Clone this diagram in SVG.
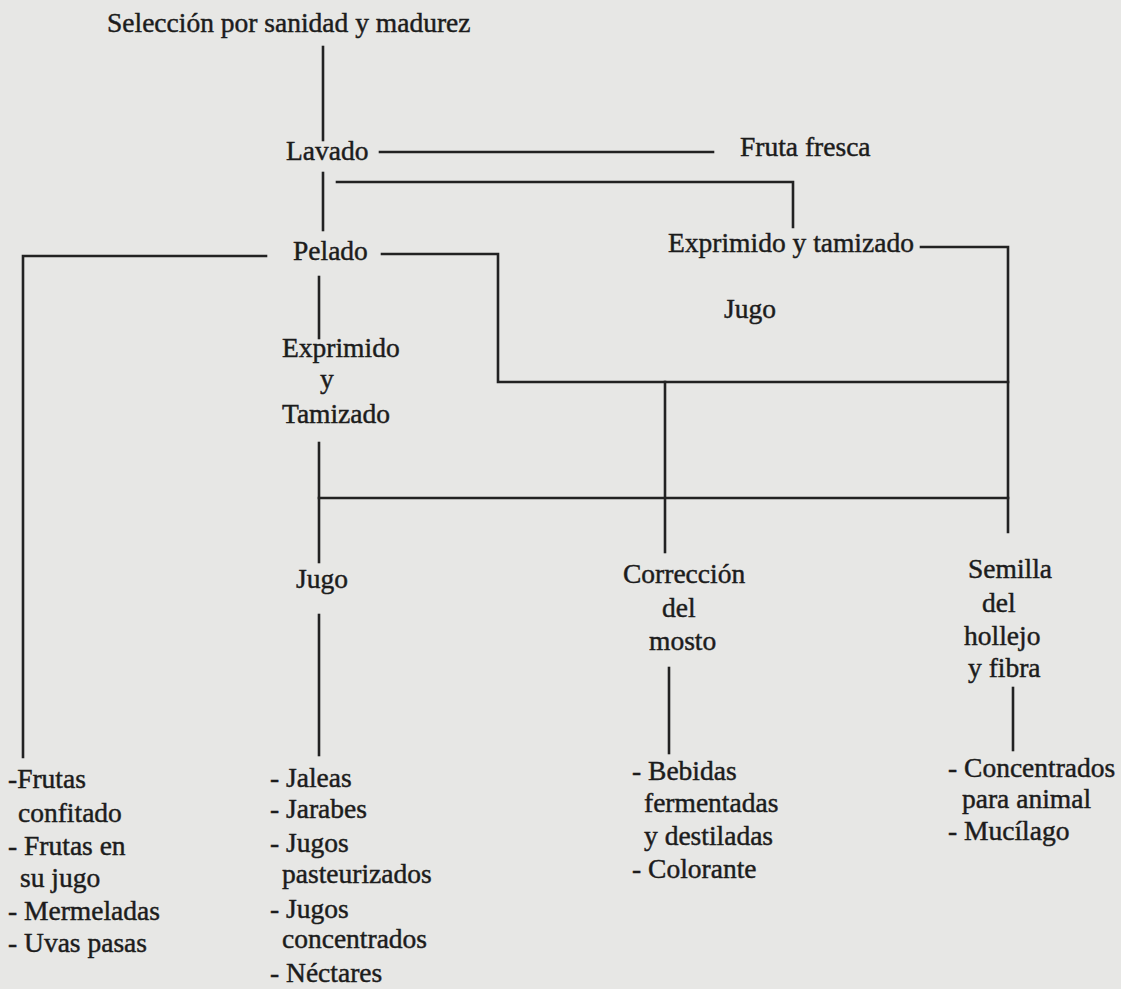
<svg xmlns="http://www.w3.org/2000/svg" width="1121" height="989" viewBox="0 0 1121 989">
<style>
text{font-family:"Liberation Serif","Times New Roman",serif;font-size:27.5px;fill:#1c1c1c;stroke:#1c1c1c;stroke-width:0.45}
.c{fill:none;stroke:#222;stroke-width:2.6;stroke-linecap:square}
</style>
<rect width="1121" height="989" fill="#e7e7e5"/>
<g id="connectors">
<path class="c" d="M323,47V140"/>
<path class="c" d="M380,152H713"/>
<path class="c" d="M323,173V230"/>
<path class="c" d="M337,182H793V227"/>
<path class="c" d="M266,256H23V757"/>
<path class="c" d="M382,254H498V382H1008"/>
<path class="c" d="M921,247H1008V532"/>
<path class="c" d="M665,382V552"/>
<path class="c" d="M319,277V338"/>
<path class="c" d="M319,443V562"/>
<path class="c" d="M319,498H1008"/>
<path class="c" d="M319,615V755"/>
<path class="c" d="M669,668V753"/>
<path class="c" d="M1013,688V750"/>
</g>
<g id="n-seleccion"><text x="107" y="32" font-size="28.3">Selección por sanidad y madurez</text></g>
<g id="n-lavado"><text x="286" y="160">Lavado</text></g>
<g id="n-fruta-fresca"><text x="740" y="156">Fruta fresca</text></g>
<g id="n-pelado"><text x="293" y="260">Pelado</text></g>
<g id="n-exprimido-tamizado"><text x="668" y="252">Exprimido y tamizado</text></g>
<g id="n-jugo-1"><text x="724" y="318">Jugo</text></g>
<g id="n-exprimido-y-tamizado"><text x="282" y="357">Exprimido</text><text x="320" y="388">y</text><text x="282" y="423">Tamizado</text></g>
<g id="n-jugo-2"><text x="296" y="588">Jugo</text></g>
<g id="n-correccion"><text x="623" y="583">Corrección</text><text x="662" y="617">del</text><text x="649" y="650">mosto</text></g>
<g id="n-semilla"><text x="968" y="578">Semilla</text><text x="982" y="612">del</text><text x="964" y="645">hollejo</text><text x="968" y="677">y fibra</text></g>
<g id="n-list-frutas"><text x="8" y="788">-Frutas</text><text x="18" y="822">confitado</text><text x="8" y="855">- Frutas en</text><text x="20" y="887">su jugo</text><text x="8" y="920">- Mermeladas</text><text x="8" y="952">- Uvas pasas</text></g>
<g id="n-list-jugo"><text x="270" y="787">- <tspan x="286">Jaleas</tspan></text><text x="270" y="818">- Jarabes</text><text x="270" y="852">- Jugos</text><text x="282" y="883">pasteurizados</text><text x="270" y="918">- Jugos</text><text x="282" y="948">concentrados</text><text x="270" y="982">- Néctares</text></g>
<g id="n-list-mosto"><text x="632" y="780">- Bebidas</text><text x="644" y="812">fermentadas</text><text x="644" y="845">y destiladas</text><text x="632" y="878">- Colorante</text></g>
<g id="n-list-semilla"><text x="948" y="777">- Concentrados</text><text x="962" y="808">para animal</text><text x="948" y="840">- Mucílago</text></g>
</svg>
